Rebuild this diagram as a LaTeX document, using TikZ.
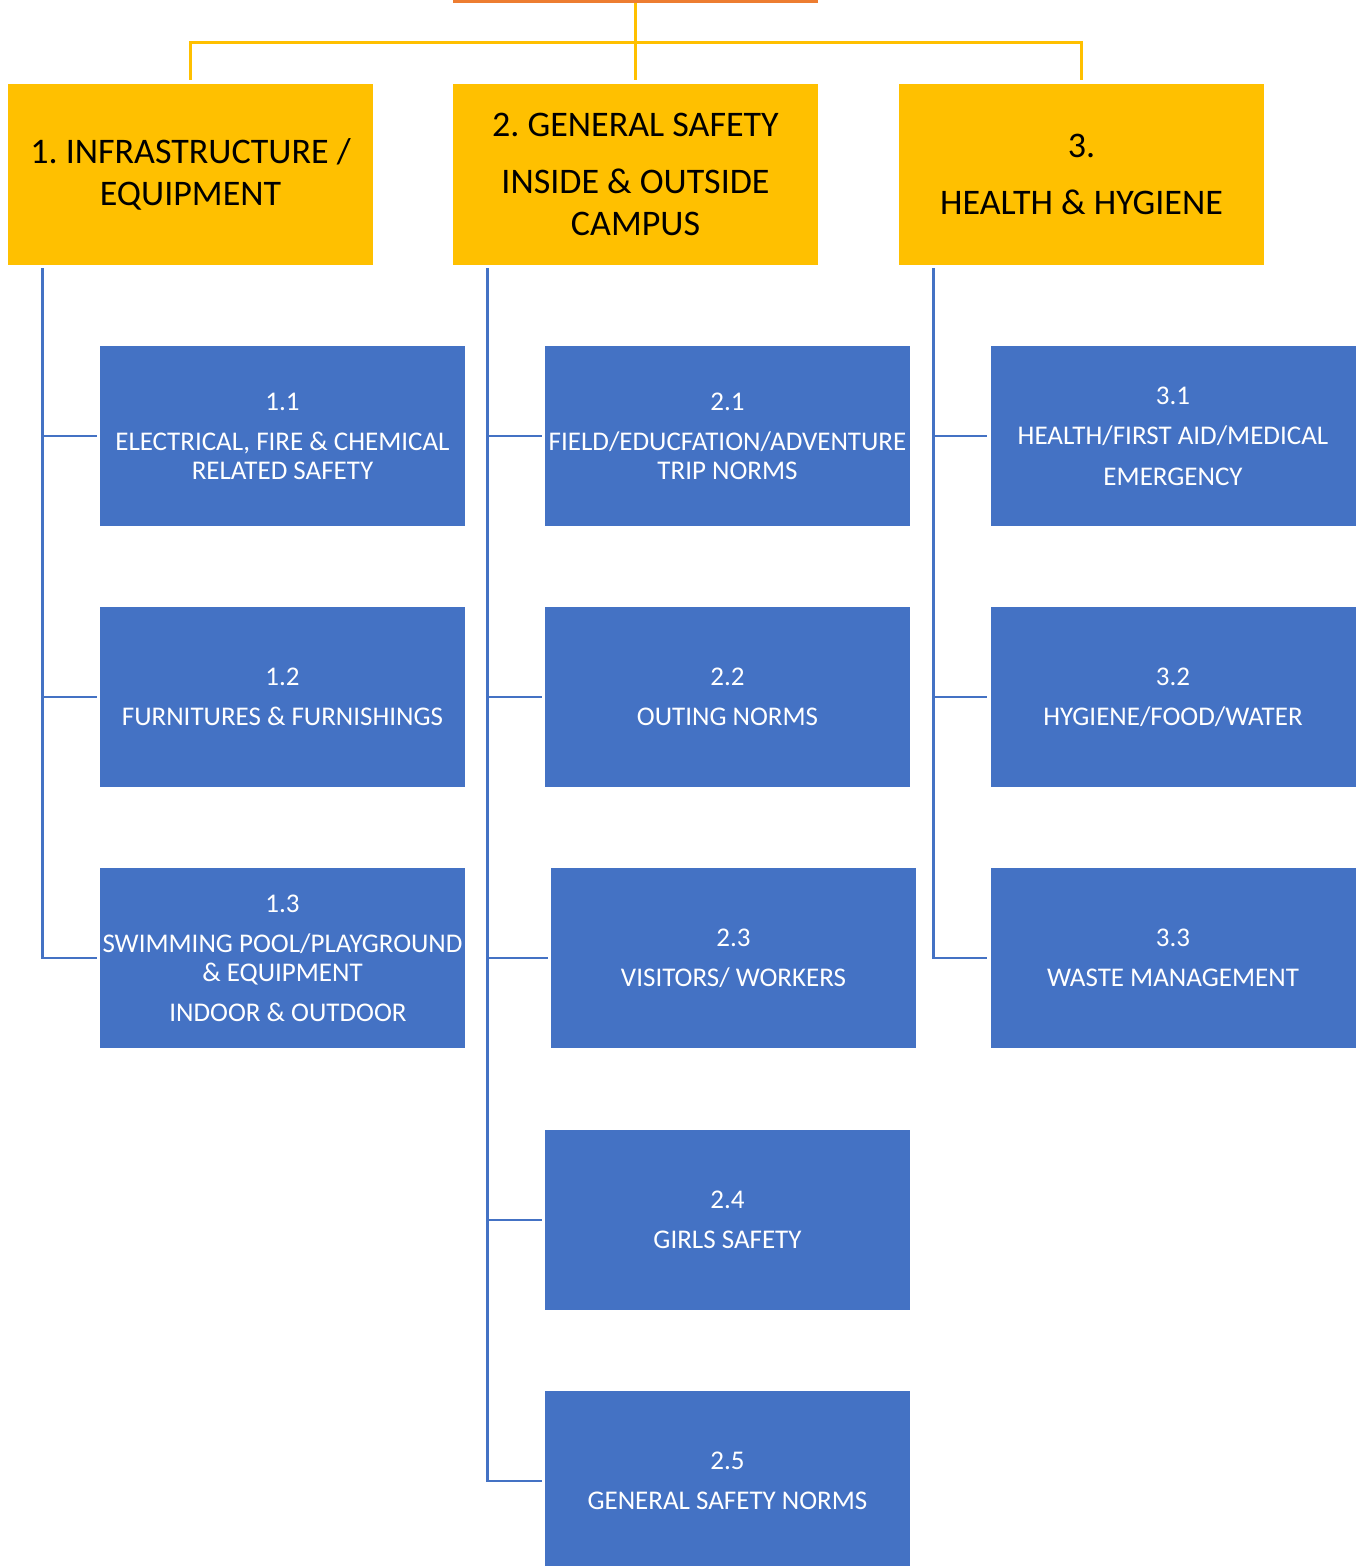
\documentclass[tikz,border=0pt]{standalone}
\usepackage{fontspec}
\setmainfont{Carlito}
\usepackage{tikz}
\usetikzlibrary{shapes,arrows,positioning}
\definecolor{hyellow}{HTML}{FFC000}
\definecolor{hblue}{HTML}{4472C4}
\definecolor{horange}{HTML}{ED7D31}
\tikzstyle{tnode} = [rectangle, fill=hyellow, inner sep=0pt, minimum width=182.5pt, minimum height=90.5pt, align=center, text=black, font=\fontsize{18}{21}\selectfont\frenchspacing]
\tikzstyle{snode} = [rectangle, fill=hblue, inner sep=0pt, minimum width=182.5pt, minimum height=90pt, align=center, text=white, font=\fontsize{13.5}{14.5}\selectfont\frenchspacing]
\tikzstyle{yline} = [draw=hyellow, line width=1.5pt]
\tikzstyle{bline} = [draw=hblue, line width=1.2pt]

\begin{document}
\begin{tikzpicture}[x=0.5pt, y=-0.5pt]
			\useasboundingbox (0,0) rectangle (1365,1566);
			\node [rectangle, fill=horange, inner sep=0pt, minimum width=182.5pt, minimum height=1.5pt] (root) at (635.5,1.5) {};
			
			\node [tnode] (t1) at (190.5,174.5) {1. INFRASTRUCTURE /\\EQUIPMENT};
			\node [tnode] (t2) at (635.5,174.5) {2. GENERAL SAFETY\\[7.5pt]INSIDE \& OUTSIDE\\CAMPUS};
			\node [tnode] (t3) at (1081.5,174.5) {3.\\[7.5pt]HEALTH \& HYGIENE};
			
			\node [snode] (s11) at (282.5,436) {1.1\\[5.5pt]ELECTRICAL, FIRE \& CHEMICAL\\RELATED SAFETY};
			\node [snode] (s12) at (282.5,697) {1.2\\[5.5pt]FURNITURES \& FURNISHINGS};
			\node [snode] (s13) at (282.5,958) {1.3\\[5.5pt]SWIMMING POOL/PLAYGROUND\\\& EQUIPMENT\\[5.5pt]\hspace*{5.5pt}INDOOR \& OUTDOOR};
			
			\node [snode] (s21) at (727.5,436) {2.1\\[5.5pt]FIELD/EDUCFATION/ADVENTURE\\TRIP NORMS};
			\node [snode] (s22) at (727.5,697) {2.2\\[5.5pt]OUTING NORMS};
			\node [snode] (s23) at (733.5,958) {2.3\\[5.5pt]VISITORS/ WORKERS};
			\node [snode] (s24) at (727.5,1220) {2.4\\[5.5pt]GIRLS SAFETY};
			\node [snode] (s25) at (727.5,1481) {2.5\\[5.5pt]GENERAL SAFETY NORMS};
			
			\node [snode] (s31) at (1173,436) {3.1\\[5.5pt]HEALTH/FIRST AID/MEDICAL\\[6pt]EMERGENCY};
			\node [snode] (s32) at (1173,697) {3.2\\[5.5pt]HYGIENE/FOOD/WATER};
			\node [snode] (s33) at (1173,958) {3.3\\[5.5pt]WASTE MANAGEMENT};
			
			% top connectors
			\coordinate (hub) at (635.5,43);
			\path [yline] (root.south) -- ([yshift=2pt]t2.north);
			\path [yline] ([yshift=2pt]t1.north) |- (hub) -| ([yshift=2pt]t3.north);
			
			% branch lines
			\coordinate (c1) at ([xshift=17.5pt,yshift=-1.5pt]t1.south west);
			\coordinate (c2) at ([xshift=17.5pt,yshift=-1.5pt]t2.south west);
			\coordinate (c3) at ([xshift=17.5pt,yshift=-1.5pt]t3.south west);
			
			\path [bline] (c1) |- ([xshift=-1.5pt]s11.west);
			\path [bline] (c1) |- ([xshift=-1.5pt]s12.west);
			\path [bline] (c1) |- ([xshift=-1.5pt]s13.west);
			
			\path [bline] (c2) |- ([xshift=-1.5pt]s21.west);
			\path [bline] (c2) |- ([xshift=-1.5pt]s22.west);
			\path [bline] (c2) |- ([xshift=-1.5pt]s23.west);
			\path [bline] (c2) |- ([xshift=-1.5pt]s24.west);
			\path [bline] (c2) |- ([xshift=-1.5pt]s25.west);
			
			\path [bline] (c3) |- ([xshift=-1.5pt]s31.west);
			\path [bline] (c3) |- ([xshift=-1.5pt]s32.west);
			\path [bline] (c3) |- ([xshift=-1.5pt]s33.west);
		\end{tikzpicture}
\end{document}
